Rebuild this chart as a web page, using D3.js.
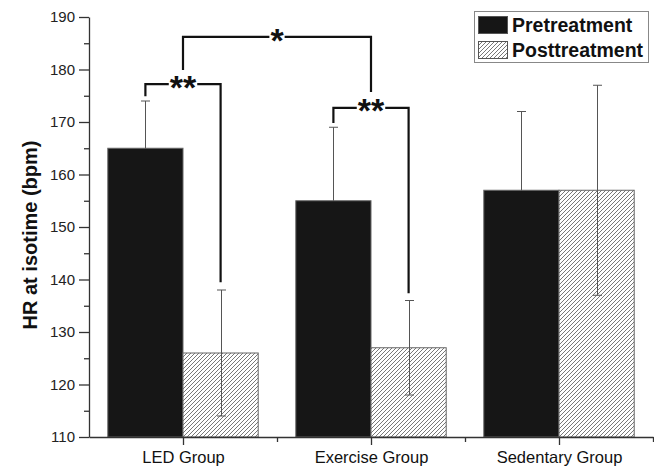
<!DOCTYPE html>
<html>
<head>
<meta charset="utf-8">
<script src="https://cdn.jsdelivr.net/npm/d3@7"></script>
<style>
  body { margin: 0; background: #fff; }
  svg { display: block; font-family: 'Liberation Sans', Arial, sans-serif; }
</style>
</head>
<body>
<svg id="chart" width="654" height="469"></svg>
<script>
/* global d3 */
const groups = ['LED Group', 'Exercise Group', 'Sedentary Group']
const preMean = [165, 155, 157]
const preErr = [9, 14, 15]
const postMean = [126, 127, 157]
const postErr = [12, 9, 20]
const seriesNames = ['Pretreatment', 'Posttreatment']
const yTicks = [110, 120, 130, 140, 150, 160, 170, 180, 190]

// significance brackets, x in category units, y in bpm
const brackets = [
  { label: '**', x1: 0.8, x2: 1.2, level: 177.2, end1: 174.9, end2: 139.5 },
  { label: '**', x1: 1.8, x2: 2.2, level: 172.7, end1: 169.8, end2: 137.4 },
  { label: '*', x1: 1.0, x2: 2.0, level: 186.2, end1: 179.9, end2: 175.7 }
]

const svg = d3.select('#chart')
const plotLeft = 89
const plotRight = 653
const plotTop = 17
const plotBottom = 437
const barW = 0.4

const x = d3.scaleLinear().domain([0.5, 3.5]).range([plotLeft, plotRight])
const y = d3.scaleLinear().domain([110, 190]).range([plotBottom, plotTop])

const defs = svg.append('defs')
const pat = defs.append('pattern')
  .attr('id', 'hatch')
  .attr('patternUnits', 'userSpaceOnUse')
  .attr('width', 4)
  .attr('height', 4)
pat.append('rect').attr('width', 4).attr('height', 4).attr('fill', '#fff')
pat.append('path')
  .attr('d', 'M-1,1 l2,-2 M0,4 l4,-4 M3,5 l2,-2')
  .attr('stroke', '#555')
  .attr('stroke-width', 0.8)

const pre = groups.map((g, i) => ({ c: i + 1, m: preMean[i], e: preErr[i], off: -barW }))
const post = groups.map((g, i) => ({ c: i + 1, m: postMean[i], e: postErr[i], off: 0 }))

function errorBars (data) {
  const g = svg.append('g')
    .attr('stroke', '#555')
    .attr('stroke-width', 1)
  const cx = d => Math.round(x(d.c + d.off + barW / 2)) + 0.5
  g.selectAll('line.v').data(data).join('line')
    .attr('class', 'v')
    .attr('x1', cx).attr('x2', cx)
    .attr('y1', d => y(d.m + d.e)).attr('y2', d => y(d.m - d.e))
  g.selectAll('line.t').data(data).join('line')
    .attr('class', 't')
    .attr('x1', d => cx(d) - 4.5).attr('x2', d => cx(d) + 4.5)
    .attr('y1', d => y(d.m + d.e)).attr('y2', d => y(d.m + d.e))
  g.selectAll('line.b').data(data).join('line')
    .attr('class', 'b')
    .attr('x1', d => cx(d) - 4.5).attr('x2', d => cx(d) + 4.5)
    .attr('y1', d => y(d.m - d.e)).attr('y2', d => y(d.m - d.e))
}

function bars (data, fill) {
  svg.append('g').selectAll('rect').data(data).join('rect')
    .attr('x', d => x(d.c + d.off))
    .attr('y', d => y(d.m))
    .attr('width', d => x(d.c + d.off + barW) - x(d.c + d.off))
    .attr('height', d => y(110) - y(d.m))
    .attr('fill', fill)
    .attr('stroke', '#666')
    .attr('stroke-width', 1)
}

errorBars(pre)
bars(pre, '#161616')
bars(post, 'url(#hatch)')
errorBars(post)

// axes
const yAxis = svg.append('g').attr('transform', `translate(${plotLeft},0)`)
yAxis.call(d3.axisLeft(y).tickValues(yTicks).tickSize(10).tickPadding(4).tickSizeOuter(0))
yAxis.append('g').call(d3.axisLeft(y).tickValues(d3.range(115, 190, 10)).tickSize(5).tickFormat(''))
  .select('.domain').remove()
yAxis.selectAll('line, path').attr('stroke', '#333').attr('stroke-width', 1.3)
yAxis.selectAll('text').attr('font-size', 15).attr('fill', '#222')
  .style('font-family', "'Liberation Sans', Arial, sans-serif")

const xAxis = svg.append('g').attr('transform', `translate(0,${plotBottom})`)
xAxis.call(d3.axisBottom(x).tickValues([1, 2, 3]).tickFormat((d, i) => groups[i])
  .tickSize(8).tickPadding(6).tickSizeOuter(0))
xAxis.append('g').call(d3.axisBottom(x).tickValues([1.5, 2.5, 3.5]).tickSize(5).tickFormat(''))
  .select('.domain').remove()
xAxis.selectAll('line, path').attr('stroke', '#333').attr('stroke-width', 1.3)
xAxis.selectAll('text').attr('font-size', 16.5).attr('fill', '#111')
  .style('font-family', "'Liberation Sans', Arial, sans-serif")

svg.append('text')
  .attr('transform', `translate(37,${(plotTop + plotBottom) / 2 + 8}) rotate(-90)`)
  .attr('text-anchor', 'middle')
  .attr('font-size', 20)
  .attr('font-weight', 'bold')
  .attr('fill', '#111')
  .text('HR at isotime (bpm)')

// brackets
const bg = svg.append('g')
brackets.forEach(b => {
  const x1 = x(b.x1)
  const x2 = x(b.x2)
  const yl = y(b.level)
  const mid = (x1 + x2) / 2
  const fs = 34
  const t = bg.append('text')
    .attr('x', mid)
    .attr('y', yl + 0.43 * fs)
    .attr('text-anchor', 'middle')
    .attr('font-size', fs)
    .attr('font-weight', 'bold')
    .attr('fill', '#111')
    .text(b.label)
  const half = t.node().getComputedTextLength() / 2 + 1
  bg.append('path')
    .attr('d', `M${x1},${y(b.end1)}V${yl}H${mid - half}M${mid + half},${yl}H${x2}V${y(b.end2)}`)
    .attr('fill', 'none')
    .attr('stroke', '#111')
    .attr('stroke-width', 2.2)
})

// legend
const lg = svg.append('g')
lg.append('rect')
  .attr('x', 474.5).attr('y', 11.5).attr('width', 174).attr('height', 51)
  .attr('fill', '#fff').attr('stroke', '#888').attr('stroke-width', 1)
const swatch = ['#161616', 'url(#hatch)']
seriesNames.forEach((s, i) => {
  lg.append('rect')
    .attr('x', 478.5).attr('y', 16.5 + i * 25).attr('width', 29).attr('height', 17)
    .attr('fill', swatch[i]).attr('stroke', '#555')
  lg.append('text')
    .attr('x', 512).attr('y', 32 + i * 25)
    .attr('font-size', 19.5).attr('font-weight', 'bold').attr('fill', '#111')
    .text(s)
})
</script>
</body>
</html>
